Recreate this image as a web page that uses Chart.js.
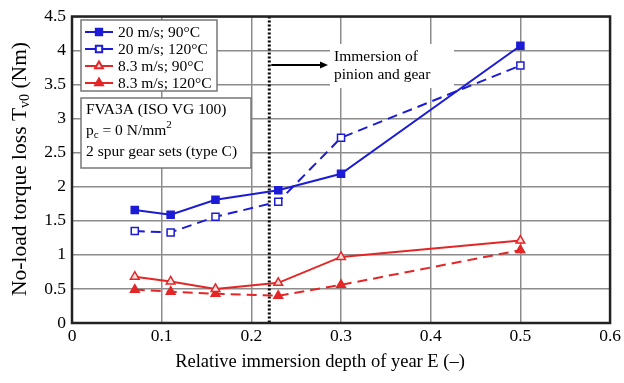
<!DOCTYPE html>
<html>
<head>
<meta charset="utf-8">
<script src="https://cdn.jsdelivr.net/npm/chart.js@4.4.1/dist/chart.umd.min.js"></script>
<style>
  html, body { margin: 0; padding: 0; background: #fff; }
  #wrap { width: 624px; height: 383px; }
</style>
</head>
<body>
<div id="wrap"><canvas id="c" width="624" height="383"></canvas></div>
<script>
// ---- data ----
const depth = [0.07, 0.11, 0.16, 0.23, 0.30, 0.50];
const v20t90 = [1.66, 1.59, 1.81, 1.95, 2.19, 4.07];
const v20t120 = [1.35, 1.33, 1.56, 1.78, 2.72, 3.78];
const v83t90 = [0.68, 0.61, 0.50, 0.59, 0.97, 1.21];
const v83t120 = [0.49, 0.46, 0.43, 0.40, 0.56, 1.07];
const seriesLabels = ['20 m/s; 90°C', '20 m/s; 120°C', '8.3 m/s; 90°C', '8.3 m/s; 120°C'];
const xTickLabels = ['0', '0.1', '0.2', '0.3', '0.4', '0.5', '0.6'];
const yTickLabels = ['0', '0.5', '1', '1.5', '2', '2.5', '3', '3.5', '4', '4.5'];
const immersionLimit = 0.22;
const xTitle = 'Relative immersion depth of year E (–)';
const infoLines = ['FVA3A (ISO VG 100)', 'p_c = 0 N/mm2', '2 spur gear sets (type C)'];
const annotLines = ['Immersion of', 'pinion and gear'];

const BLUE = 'rgb(28,28,215)';
const RED = 'rgb(228,38,38)';
const FONT = "'Liberation Serif', 'Times New Roman', serif";

function pts(ys) { return depth.map((x, i) => ({ x: x, y: ys[i] })); }

const datasets = [
  { label: seriesLabels[0], data: pts(v20t90), borderColor: BLUE, backgroundColor: BLUE,
    pointStyle: 'rect', pointRadius: 5, pointBorderWidth: 1.5, borderWidth: 2, borderDash: [] },
  { label: seriesLabels[1], data: pts(v20t120), borderColor: BLUE, backgroundColor: '#fff',
    pointStyle: 'rect', pointRadius: 5, pointBorderWidth: 1.5, borderWidth: 2, borderDash: [10, 6] },
  { label: seriesLabels[2], data: pts(v83t90), borderColor: RED, backgroundColor: 'rgba(255,225,225,1)',
    pointStyle: 'triangle', pointRadius: 5, pointBorderWidth: 1.5, borderWidth: 2, borderDash: [] },
  { label: seriesLabels[3], data: pts(v83t120), borderColor: RED, backgroundColor: RED,
    pointStyle: 'triangle', pointRadius: 5, pointBorderWidth: 1.5, borderWidth: 2, borderDash: [10, 6] }
];
datasets.forEach(d => { d.showLine = true; d.fill = false; d.tension = 0; d.pointBackgroundColor = d.backgroundColor; });

const decor = {
  id: 'decor',
  beforeDatasetsDraw(chart) {
    const ctx = chart.ctx, xs = chart.scales.x, a = chart.chartArea;
    ctx.save();
    // white background behind annotation text
    ctx.fillStyle = '#fff';
    ctx.fillRect(330, 44, 124, 44);
    // legend box
    ctx.strokeStyle = '#777';
    ctx.lineWidth = 1.5;
    ctx.fillRect(81, 20, 136, 71);
    ctx.strokeRect(81, 20, 136, 71);
    // info box
    ctx.fillRect(81, 98, 170, 70);
    ctx.strokeRect(81, 98, 170, 70);

    // legend entries
    const rows = [32, 49, 66, 83];
    ctx.textBaseline = 'middle';
    ctx.font = '15.5px ' + FONT;
    chart.data.datasets.forEach((d, i) => {
      const y = rows[i];
      ctx.strokeStyle = d.borderColor;
      ctx.lineWidth = 2;
      ctx.setLineDash([]);
      ctx.beginPath(); ctx.moveTo(85, y); ctx.lineTo(113, y); ctx.stroke();
      ctx.fillStyle = d.backgroundColor;
      Chart.helpers.drawPoint(ctx, { pointStyle: d.pointStyle, radius: d.pointRadius - 0.5, rotation: 0, borderWidth: 1.5 }, 99, y);
      ctx.fillStyle = '#000';
      ctx.fillText(d.label, 118, y + 1);
    });

    // info text
    ctx.fillStyle = '#000';
    ctx.font = '15.5px ' + FONT;
    ctx.fillText(infoLines[0], 86, 110);
    // p_c = 0 N/mm^2
    let x = 86, y = 131;
    ctx.fillText('p', x, y); x += ctx.measureText('p').width;
    ctx.font = '11px ' + FONT; ctx.fillText('c', x, y + 4); x += ctx.measureText('c').width;
    ctx.font = '15.5px ' + FONT; const mid = ' = 0 N/mm';
    ctx.fillText(mid, x, y); x += ctx.measureText(mid).width;
    ctx.font = '11px ' + FONT; ctx.fillText('2', x, y - 6);
    ctx.font = '15.5px ' + FONT;
    ctx.fillText(infoLines[2], 86, 152);

    // annotation text
    ctx.fillText(annotLines[0], 334, 57);
    ctx.fillText(annotLines[1], 334, 75);

    // arrow
    const ax0 = xs.getPixelForValue(immersionLimit) + 2, ax1 = 328, ay = 65;
    ctx.strokeStyle = '#000'; ctx.lineWidth = 2;
    ctx.beginPath(); ctx.moveTo(ax0, ay); ctx.lineTo(ax1 - 6, ay); ctx.stroke();
    ctx.fillStyle = '#000';
    ctx.beginPath(); ctx.moveTo(ax1, ay); ctx.lineTo(ax1 - 8, ay - 3.5); ctx.lineTo(ax1 - 8, ay + 3.5); ctx.closePath(); ctx.fill();

    // dotted vertical line
    const vx = xs.getPixelForValue(immersionLimit);
    ctx.strokeStyle = '#000'; ctx.lineWidth = 3; ctx.setLineDash([2, 2]);
    ctx.beginPath(); ctx.moveTo(vx, a.top); ctx.lineTo(vx, a.bottom); ctx.stroke();
    ctx.restore();
  },
  afterDraw(chart) {
    const ctx = chart.ctx, a = chart.chartArea;
    ctx.save();
    // frame
    ctx.strokeStyle = '#222'; ctx.lineWidth = 2.5;
    ctx.strokeRect(a.left, a.top, a.right - a.left, a.bottom - a.top);
    // x title
    ctx.fillStyle = '#000';
    ctx.font = '18.5px ' + FONT;
    ctx.textAlign = 'center'; ctx.textBaseline = 'middle';
    ctx.fillText(xTitle, 320, 362);
    // y title with subscript
    const parts = [['No-load torque loss T', 21.5, 0], ['v0', 14, 5], [' (Nm)', 21.5, 0]];
    let total = 0;
    parts.forEach(p => { ctx.font = p[1] + 'px ' + FONT; total += ctx.measureText(p[0]).width; });
    ctx.translate(20, 169); ctx.rotate(-Math.PI / 2);
    ctx.textAlign = 'left';
    let x = -total / 2;
    parts.forEach(p => { ctx.font = p[1] + 'px ' + FONT; ctx.fillText(p[0], x, p[2]); x += ctx.measureText(p[0]).width; });
    ctx.restore();
  }
};

new Chart(document.getElementById('c'), {
  type: 'scatter',
  data: { datasets: datasets },
  options: {
    responsive: false,
    animation: false,
    devicePixelRatio: 1,
    layout: { padding: { top: 14, right: 12, left: 0, bottom: 0 } },
    plugins: { legend: { display: false }, tooltip: { enabled: false } },
    scales: {
      x: {
        type: 'linear', min: 0, max: 0.6,
        afterFit(s) { s.height = 60; },
        afterBuildTicks(s) { s.ticks = xTickLabels.map(v => ({ value: parseFloat(v) })); },
        ticks: { callback: (v, i) => xTickLabels[i], color: '#000', font: { family: FONT, size: 17.5 }, padding: 3, maxRotation: 0 },
        grid: { color: '#8c8c8c', lineWidth: 1.5, drawTicks: false },
        border: { display: false }
      },
      y: {
        type: 'linear', min: 0, max: 4.5,
        afterFit(s) { s.width = 72; },
        afterBuildTicks(s) { s.ticks = yTickLabels.map(v => ({ value: parseFloat(v) })); },
        ticks: { callback: (v, i) => yTickLabels[i], color: '#000', font: { family: FONT, size: 17.5 }, padding: 6 },
        grid: { color: '#8c8c8c', lineWidth: 1.5, drawTicks: false },
        border: { display: false }
      }
    }
  },
  plugins: [decor]
});
</script>
</body>
</html>
